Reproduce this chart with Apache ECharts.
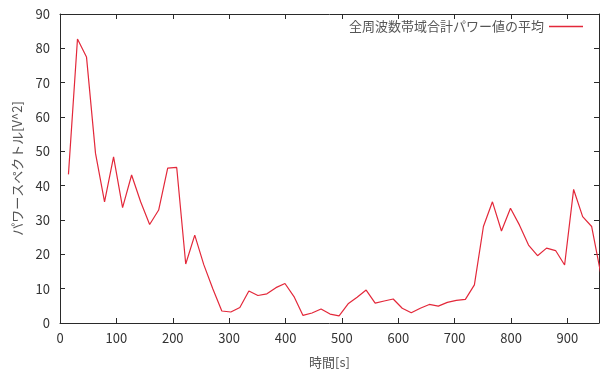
<!DOCTYPE html>
<html>
<head>
<meta charset="utf-8">
<script src="https://cdn.jsdelivr.net/npm/echarts@6/dist/echarts.min.js"></script>
<style>
  html, body { margin: 0; padding: 0; background: #fff; }
  #chart { width: 600px; height: 369px; }
</style>
</head>
<body>
<div id="chart"></div>
<script>
// Elapsed time of each analysis window [s]
const times = [
  15, 31, 47, 63, 79, 95, 111, 127, 143, 159,
  175, 191, 207, 223, 239, 255, 271, 287, 303, 319,
  335, 351, 367, 383, 399, 415, 431, 447, 463, 479,
  495, 511, 527, 543, 559, 575, 591, 607, 623, 639,
  655, 671, 687, 703, 719, 735, 751, 767, 783, 799,
  815, 831, 847, 863, 879, 895, 911, 927, 943, 959
];
// Mean of the total power over all frequency bands [V^2]
const powerMean = [
  43.3, 82.7, 77.5, 49.4, 35.3, 48.4, 33.6, 43.1, 35.3, 28.7,
  32.9, 45.1, 45.3, 17.2, 25.6, 17.0, 10.0, 3.5, 3.2, 4.5,
  9.3, 8.0, 8.5, 10.3, 11.5, 7.7, 2.2, 2.9, 4.1, 2.6,
  2.1, 5.6, 7.5, 9.6, 5.8, 6.4, 7.0, 4.3, 3.0, 4.3,
  5.4, 4.9, 6.0, 6.6, 6.9, 11.1, 28.1, 35.3, 26.8, 33.4,
  28.5, 22.7, 19.6, 21.8, 21.1, 16.9, 38.9, 31.0, 28.1, 14.5
];
const seriesName = '全周波数帯域合計パワー値の平均';
const xTitle = '時間[s]';
const yTitle = 'パワースペクトル[V^2]';
const xRange = { min: 0, max: 956, interval: 100 };
const yRange = { min: 0, max: 90, interval: 10 };

const font = '"Noto Sans CJK JP", "Noto Sans", sans-serif';
const axisColor = '#2a2a2a';
const textColor = '#333';
const titleColor = '#555';
const lineColor = '#e3283a';

const chart = echarts.init(document.getElementById('chart'), null, { renderer: 'canvas' });

function baseAxis(extra) {
  return Object.assign({
    type: 'value',
    axisLine: { show: true, onZero: false, lineStyle: { color: axisColor, width: 1 } },
    axisTick: { show: true, inside: true, length: 5, lineStyle: { color: axisColor } },
    splitLine: { show: false }
  }, extra);
}

chart.setOption({
  backgroundColor: '#fff',
  animation: false,
  textStyle: { fontFamily: font },
  grid: { left: 60, right: 1, top: 14, bottom: 46, containLabel: false, outerBoundsMode: 'none' },
  legend: {
    right: 12,
    top: 15,
    align: 'right',
    itemWidth: 34,
    itemHeight: 1.5,
    textStyle: { fontFamily: font, fontSize: 13, color: titleColor },
    data: [{ name: seriesName, icon: 'rect', itemStyle: { color: lineColor, opacity: 1, borderWidth: 0 } }]
  },
  xAxis: [
    baseAxis(Object.assign({
      position: 'bottom',
      name: xTitle,
      nameLocation: 'middle',
      nameGap: 33,
      nameTextStyle: { fontFamily: font, fontSize: 13, color: titleColor },
      axisLabel: { margin: 9, fontSize: 13, color: textColor, fontFamily: font, showMaxLabel: false }
    }, xRange)),
    baseAxis(Object.assign({
      position: 'top',
      axisLabel: { show: false }
    }, xRange))
  ],
  yAxis: [
    baseAxis(Object.assign({
      position: 'left',
      name: yTitle,
      nameLocation: 'middle',
      nameGap: 36,
      nameTextStyle: { fontFamily: font, fontSize: 13, color: titleColor },
      axisLabel: { margin: 10, fontSize: 13, color: textColor, fontFamily: font }
    }, yRange)),
    baseAxis(Object.assign({
      position: 'right',
      axisLabel: { show: false }
    }, yRange))
  ],
  series: [{
    name: seriesName,
    type: 'line',
    xAxisIndex: 0,
    yAxisIndex: 0,
    data: times.map((t, i) => [t, powerMean[i]]),
    showSymbol: false,
    symbol: 'none',
    clip: true,
    color: lineColor,
    lineStyle: { color: lineColor, width: 1.2 },
    itemStyle: { color: lineColor }
  }]
});
</script>
</body>
</html>
